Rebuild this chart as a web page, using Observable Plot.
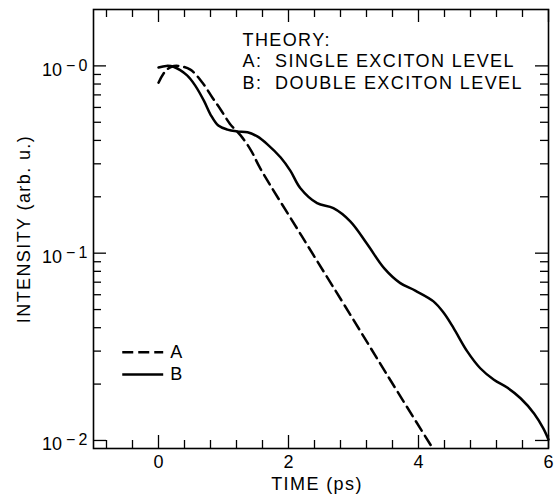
<!DOCTYPE html>
<html><head><meta charset="utf-8">
<script src="https://cdn.jsdelivr.net/npm/d3@7"></script>
<script src="https://cdn.jsdelivr.net/npm/@observablehq/plot@0.6"></script>
<style>
html,body{margin:0;padding:0;background:#fff;}
#chart svg{display:block;}
#chart svg text{letter-spacing:1.4px;}
#chart svg g[aria-label="y-axis tick label"] text,
#chart svg g[aria-label="x-axis tick label"] text{letter-spacing:0;}
</style></head><body><div id="chart"></div>
<script>
// Curve A: single exciton level (dashed)
const timeA = [0, 0.1, 0.2, 0.3, 0.49, 0.68, 0.83, 0.95, 1.1, 1.26, 1.42, 1.57, 2.2, 2.98, 3.5, 4.2];
const intensityA = [0.813, 0.933, 0.989, 1.0, 0.955, 0.81, 0.676, 0.589, 0.49, 0.427, 0.355, 0.282, 0.124, 0.0452, 0.0229, 0.0093];
// Curve B: double exciton level (solid)
const timeB = [0, 0.12, 0.23, 0.44, 0.57, 0.70, 0.80, 0.92, 1.06, 1.21, 1.37, 1.52, 1.68, 1.88, 2.03, 2.18, 2.44, 2.69, 2.95, 3.21, 3.47, 3.72, 3.95, 4.23, 4.39, 4.54, 4.75, 4.95, 5.16, 5.37, 5.57, 5.78, 5.92, 6.0];
const intensityB = [0.98, 1.0, 0.99, 0.89, 0.78, 0.65, 0.55, 0.48, 0.457, 0.447, 0.442, 0.42, 0.38, 0.324, 0.275, 0.223, 0.185, 0.174, 0.148, 0.112, 0.0832, 0.0692, 0.0631, 0.0553, 0.0479, 0.0398, 0.0299, 0.0243, 0.0211, 0.0191, 0.0168, 0.0139, 0.0116, 0.0101];

const xMajorTicks = [0, 2, 4, 6];
const xMinorTicks = [-0.8, -0.4, 0.4, 0.8, 1.2, 1.6, 2.4, 2.8, 3.2, 3.6, 4.4, 4.8, 5.2, 5.6];
const yMajorTicks = [1, 0.1, 0.01];
const yMinorTicks = [0.9, 0.8, 0.7, 0.6, 0.5, 0.4, 0.3, 0.2, 0.09, 0.08, 0.07, 0.06, 0.05, 0.04, 0.03, 0.02];

const xLabel = "TIME (ps)";
const yLabel = "INTENSITY (arb. u.)";
const theoryLines = ["THEORY:", "A:\u00a0\u00a0SINGLE EXCITON LEVEL", "B:\u00a0\u00a0DOUBLE EXCITON LEVEL"];
const legendLabels = ["A", "B"];
const legendLevels = [0.0296, 0.0225];
const legendSpan = [-0.55, 0.08];
const legendTextX = 0.18;

// layout
const W = 557, H = 497;
const mL = 93, mR = 9, mT = 9, mB = 49;
const innerW = W - mL - mR, innerH = H - mT - mB;
const majorLen = 13, minorLen = 8;
const font = "'Liberation Sans', Arial, Helvetica, sans-serif";

const dataA = timeA.map((t, i) => ({t, v: intensityA[i]}));
const dataB = timeB.map((t, i) => ({t, v: intensityB[i]}));

const tickStyle = {stroke: "#000", strokeWidth: 1.3};

const plot = Plot.plot({
  width: W, height: H,
  marginLeft: mL, marginRight: mR, marginTop: mT, marginBottom: mB,
  style: {fontFamily: font, fontSize: "18px", color: "#000", background: "#fff"},
  x: {domain: [-1, 6], axis: null},
  y: {type: "log", domain: [0.00906, 2.0], axis: null},
  marks: [
    Plot.tickX(xMajorTicks, {x: d => d, insetTop: innerH - majorLen, ...tickStyle}),
    Plot.tickX(xMinorTicks, {x: d => d, insetTop: innerH - minorLen, ...tickStyle}),
    Plot.tickX(xMajorTicks, {x: d => d, insetBottom: innerH - majorLen, ...tickStyle}),
    Plot.tickX(xMinorTicks, {x: d => d, insetBottom: innerH - minorLen, ...tickStyle}),
    Plot.tickY(yMajorTicks, {y: d => d, insetRight: innerW - majorLen, ...tickStyle}),
    Plot.tickY(yMinorTicks, {y: d => d, insetRight: innerW - minorLen, ...tickStyle}),
    Plot.tickY(yMajorTicks, {y: d => d, insetLeft: innerW - majorLen, ...tickStyle}),
    Plot.tickY(yMinorTicks, {y: d => d, insetLeft: innerW - minorLen, ...tickStyle}),
    Plot.frame({stroke: "#000", strokeWidth: 1.6}),
    Plot.axisX(xMajorTicks, {anchor: "bottom", tickSize: 0, tickPadding: 7, fontSize: 18, label: null}),
    Plot.axisY(yMajorTicks, {anchor: "left", tickSize: 0, tickPadding: 6, fontSize: 18, dy: 4, label: null,
      tickFormat: d => "10|" + Math.abs(Math.round(Math.log10(d)))}),
    Plot.text([xLabel], {frameAnchor: "bottom", dy: 29, dx: -4, lineAnchor: "top", textAnchor: "middle", fontSize: 18}),
    Plot.text([yLabel], {frameAnchor: "left", rotate: -90, dx: -76, lineAnchor: "top", textAnchor: "middle", fontSize: 18}),
    Plot.line(dataA, {x: "t", y: "v", curve: "catmull-rom", stroke: "#000", strokeWidth: 2.5, strokeDasharray: "11,6"}),
    Plot.line(dataB, {x: "t", y: "v", curve: "catmull-rom", stroke: "#000", strokeWidth: 2.5}),
    Plot.ruleY([legendLevels[0]], {x1: legendSpan[0], x2: legendSpan[1], stroke: "#000", strokeWidth: 2.5, strokeDasharray: "11,5"}),
    Plot.ruleY([legendLevels[1]], {x1: legendSpan[0], x2: legendSpan[1], stroke: "#000", strokeWidth: 2.5}),
    Plot.text(legendLabels, {x: () => legendTextX, y: (d, i) => legendLevels[i], textAnchor: "start", fontSize: 18}),
    Plot.text([theoryLines.join("\n")], {frameAnchor: "top-left", dx: 149, dy: 21, lineAnchor: "top", lineHeight: 1.2, textAnchor: "start", fontSize: 18})
  ]
});

d3.select(plot).selectAll('g[aria-label="y-axis tick label"] text').each(function() {
  const parts = this.textContent.split("|");
  const el = d3.select(this);
  el.text(parts[0]);
  el.append("tspan").attr("dx", 4).attr("dy", "-0.3em").attr("font-size", "16px").text("\u2212\u2009" + parts[1]);
});

document.getElementById("chart").appendChild(plot);
</script>
</body></html>
